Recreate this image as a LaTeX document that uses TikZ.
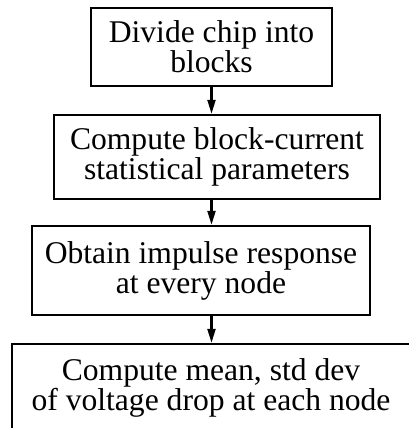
\documentclass[tikz,border=0pt]{standalone}
\usepackage{fontspec}
\setmainfont{Liberation Serif}
\usetikzlibrary{arrows.meta}
\tikzset{
  every picture/.append style={line cap=butt,line join=miter},
  flow box/.style={draw,line width=2.4pt,align=center,inner sep=0pt,
    font=\fontsize{31.6}{30}\selectfont},
  flow arrow/.style={line width=2.2pt,-{Triangle[length=14pt,width=8pt]}}
}
\begin{document}
\begin{tikzpicture}[x=1pt,y=-1pt]
    \useasboundingbox (0,0) rectangle (408,428);
    \node[flow box,minimum width=241pt,minimum height=78pt] (divide) at (211.5,47) {Divide chip into\\blocks};
    \node[flow box,minimum width=326pt,minimum height=84pt] (params) at (217,157) {Compute block-current\\statistical parameters};
    \node[flow box,minimum width=338pt,minimum height=89pt] (impulse) at (201,270.5) {Obtain impulse response\\at every node};
    \node[flow box,minimum width=398pt,minimum height=100pt,text depth=18pt] (stats) at (211,394) {Compute mean, std dev\\of voltage drop at each node};
    \draw[flow arrow] (divide.south) -- (divide.south |- params.north);
    \draw[flow arrow] (divide.south |- params.south) -- (divide.south |- impulse.north);
    \draw[flow arrow] (divide.south |- impulse.south) -- (divide.south |- stats.north);
  \end{tikzpicture}
\end{document}
